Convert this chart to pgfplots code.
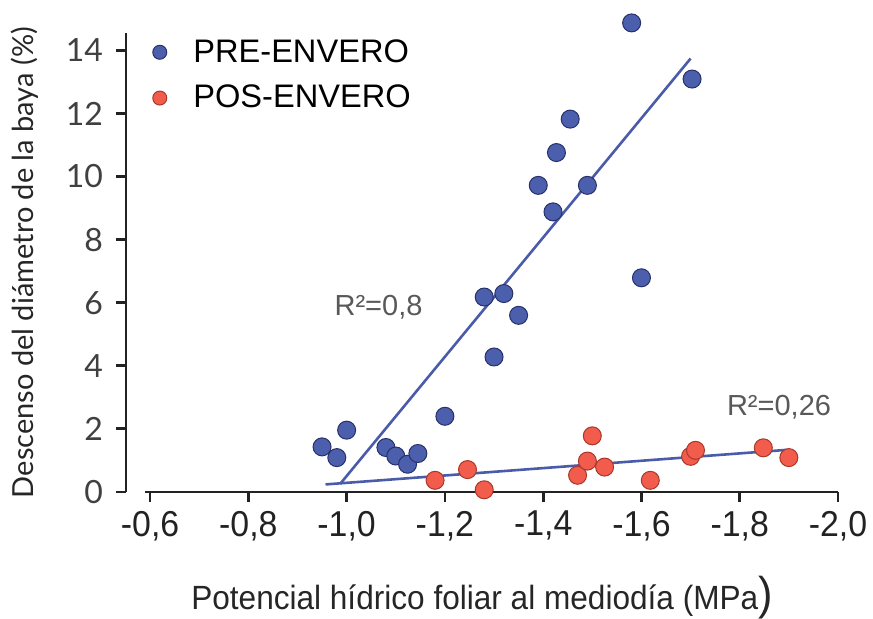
\documentclass[border=0pt]{standalone}
\usepackage{fontspec}
\setmainfont{Liberation Sans}
\newfontfamily\latofont{Lato}
\newfontfamily\condfont[FakeStretch=0.94]{Liberation Sans}
\usepackage{pgfplots}
\pgfplotsset{compat=1.18}
\usetikzlibrary{calc}

\definecolor{preblue}{HTML}{4B5FAD}
\definecolor{preedge}{HTML}{27306A}
\definecolor{posred}{HTML}{F25C4C}
\definecolor{posedge}{HTML}{A8382A}
\definecolor{fitline}{HTML}{4A5BAA}
\definecolor{rtext}{HTML}{595959}
\definecolor{axisgray}{HTML}{222222}

\newcommand\xtickfont{\condfont\fontsize{18}{20}\selectfont}
\newcommand\ytickfont{\latofont\fontsize{16}{18}\selectfont}
\newcommand\legendfont{\fontsize{16.3}{19}\selectfont}

\begin{document}
\begin{tikzpicture}
\begin{axis}[
    name=ax,
    scale only axis,
    width=356pt, height=229.5pt,
    % x values are negative potentials; plotted with the axis running to the right
    x filter/.expression={-x},
    xmin=0.551, xmax=2.0,
    ymin=0, ymax=14.55,
    axis x line=bottom, axis y line=left,
    axis line style={-, line width=1.4pt, axisgray},
    x axis line style={draw=none},
    xtick={0.6,0.8,1.0,1.2,1.4,1.6,1.8,2.0},
    xticklabels={{-0,6},{-0,8},{-1,0},{-1,2},{-1,4},{-1,6},{-1,8},{-2,0}},
    ytick={0,2,4,6,8,10,12,14},
    yticklabels={0,2,4,6,8,10,12,14},
    tick align=outside,
    major tick length=5pt,
    tick style={line width=1.4pt, axisgray},
    xticklabel style={font=\xtickfont, text=axisgray, yshift=-1pt},
    yticklabel style={font=\ytickfont, text=black!75, xshift=-3pt},
    clip=false,
    legend style={at={(rel axis cs:0,1)}, anchor=north west, draw=none, fill=none,
        font=\legendfont, row sep=6pt, xshift=8pt, yshift=1pt},
    legend cell align=left,
    legend image code/.code={\path[draw=none] (0cm,0cm) -- (0.72cm,0cm);
        \draw[#1, mark size=3.5pt] plot coordinates {(0.2cm,0cm)};},
]
% regression lines
\addplot[fitline, line width=1.3pt, forget plot] coordinates {(-0.987,0.26) (-1.70,13.74)};
\addplot[fitline, line width=1.3pt, forget plot] coordinates {(-0.957,0.24) (-1.90,1.34)};

% PRE-ENVERO
\addplot[only marks, mark=*, mark size=4.5pt, mark options={fill=preblue, draw=preedge, line width=0.5pt}] coordinates {
    (-0.95,1.43) (-0.98,1.09) (-1.00,1.96) (-1.08,1.41) (-1.10,1.14)
    (-1.124,0.88) (-1.145,1.22) (-1.20,2.40) (-1.28,6.18) (-1.32,6.29)
    (-1.35,5.60) (-1.30,4.28) (-1.39,9.72) (-1.49,9.72) (-1.42,8.88)
    (-1.427,10.76) (-1.455,11.82) (-1.58,14.87) (-1.703,13.09) (-1.60,6.79)
};
\addlegendentry{PRE-ENVERO}

% POS-ENVERO
\addplot[only marks, mark=*, mark size=4.5pt, mark options={fill=posred, draw=posedge, line width=0.5pt}] coordinates {
    (-1.18,0.37) (-1.246,0.71) (-1.28,0.07) (-1.47,0.53) (-1.49,0.98)
    (-1.50,1.78) (-1.525,0.79) (-1.618,0.37) (-1.70,1.13) (-1.71,1.32)
    (-1.848,1.40) (-1.90,1.09)
};
\addlegendentry{POS-ENVERO}

\draw[line width=1.4pt, axisgray] (axis cs:0.59,0) -- (axis cs:2.0,0);
\node[text=rtext, font=\fontsize{14.5}{16}\selectfont] at (axis cs:1.065,5.85) {R²=0,8};
\node[text=rtext, font=\fontsize{14.5}{16}\selectfont] at (axis cs:1.88,2.7) {R²=0,26};
\end{axis}

\node[rotate=90, font=\latofont\fontsize{14.5}{16}\selectfont, text=black!85]
    at ($(ax.west)+(-50.5pt,0)$) {Descenso del diámetro de la baya (\%)};
\node[font=\condfont\fontsize{16.8}{19}\selectfont, text=black!85]
    at ($(ax.south)+(0,-53pt)$) {Potencial hídrico foliar al mediodía (MPa{\fontsize{23}{23}\selectfont )}};

\pgfresetboundingbox
\path ($(ax.south west)+(-63pt,-63.5pt)$) rectangle ($(ax.north east)+(17.5pt,16.5pt)$);
\end{tikzpicture}
\end{document}
